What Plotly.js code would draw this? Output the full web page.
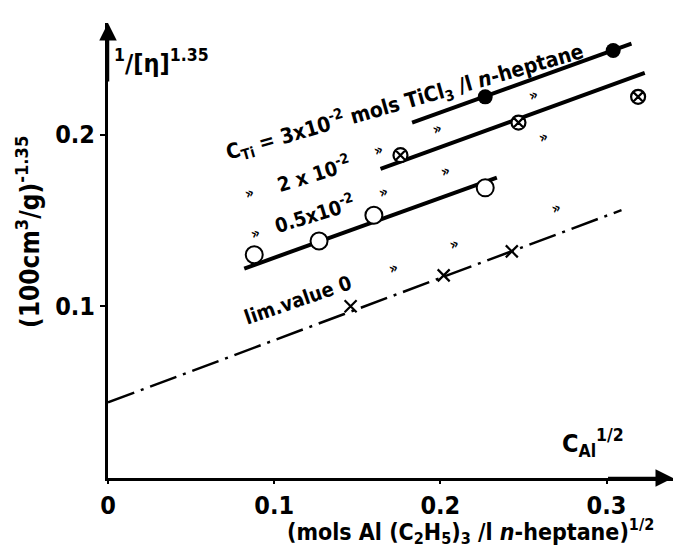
<!DOCTYPE html>
<html>
<head>
<meta charset="utf-8">
<script src="https://cdn.plot.ly/plotly-3.0.1.min.js"></script>
<style>html,body{margin:0;padding:0;background:#fff;}#chart{width:680px;height:548px;}</style>
</head>
<body>
<div id="chart"></div>
<script>
// ---- data (x = C_Al^1/2, y = 1/[eta]^1.35) ----
const cTi3_x = [0.227, 0.304];
const cTi3_y = [0.222, 0.249];
const fit3_x = [0.183, 0.315];
const fit3_y = [0.207, 0.253];

const cTi2_x = [0.176, 0.247, 0.319];
const cTi2_y = [0.188, 0.207, 0.222];
const fit2_x = [0.164, 0.323];
const fit2_y = [0.180, 0.236];

const cTi05_x = [0.088, 0.127, 0.160, 0.227];
const cTi05_y = [0.130, 0.138, 0.153, 0.169];
const fit05_x = [0.082, 0.234];
const fit05_y = [0.122, 0.175];

const lim0_x = [0.146, 0.202, 0.243];
const lim0_y = [0.100, 0.118, 0.132];
const limFit_x = [0.0, 0.309];
const limFit_y = [0.044, 0.156];

const xTickVals = [0, 0.1, 0.2, 0.3];
const xTickText = ['0', '0.1', '0.2', '0.3'];
const yTickVals = [0.1, 0.2];
const yTickText = ['0.1', '0.2'];

const FONT = "'DejaVu Sans Condensed', 'Liberation Sans Narrow', sans-serif";
const K = 'black';

const traces = [
  {x: fit3_x, y: fit3_y, mode: 'lines', line: {color: K, width: 4}},
  {x: fit2_x, y: fit2_y, mode: 'lines', line: {color: K, width: 4}},
  {x: fit05_x, y: fit05_y, mode: 'lines', line: {color: K, width: 4}},
  {x: limFit_x, y: limFit_y, mode: 'lines', line: {color: K, width: 2.5, dash: '28px,7px,3px,7px'}},
  {x: cTi3_x, y: cTi3_y, mode: 'markers', marker: {symbol: 'circle', size: 15, color: K}},
  {x: cTi2_x, y: cTi2_y, mode: 'markers', marker: {symbol: 'circle-x', size: 14, color: 'white', line: {color: K, width: 2.2}}},
  {x: cTi05_x, y: cTi05_y, mode: 'markers', marker: {symbol: 'circle', size: 17, color: 'white', line: {color: K, width: 2}}},
  {x: lim0_x, y: lim0_y, mode: 'markers', marker: {symbol: 'x-thin-open', size: 12, color: K, line: {color: K, width: 2.2}}}
];

function txt(text, x, y, size, angle, extra) {
  return Object.assign({text: text, x: x, y: y, xref: 'x', yref: 'y', showarrow: false,
    xanchor: 'center', yanchor: 'middle',
    textangle: angle || 0, font: {family: FONT, size: size, color: K, weight: 'bold'}}, extra || {});
}

const ditto = [
  [0.085, 0.166], [0.089, 0.1425],
  [0.163, 0.191], [0.166, 0.1665], [0.172, 0.1225],
  [0.198, 0.203], [0.203, 0.179], [0.2085, 0.136],
  [0.256, 0.223], [0.262, 0.1985], [0.270, 0.157]
];

const annotations = [
  txt('C<sub>Ti</sub> = 3x10<sup>-2</sup> mols TiCl<sub>3</sub> /l <i>n</i>-heptane', 0.1787, 0.2197, 21, -16),
  txt('2 x 10<sup>-2</sup>', 0.124, 0.1774, 20, -17),
  txt('0.5x10<sup>-2</sup>', 0.1245, 0.1546, 20, -17),
  txt('lim.value 0', 0.1142, 0.1037, 20, -19),
  txt('<sup>1</sup>/[η]<sup>1.35</sup>', 0.032, 0.2425, 25, 0),
  txt('C<sub>Al</sub><sup>1/2</sup>', 0.2916, 0.0202, 25, 0),
  {text: '(mols Al (C<sub>2</sub>H<sub>5</sub>)<sub>3</sub> /l <i>n</i>-heptane)<sup>1/2</sup>',
   xref: 'paper', yref: 'paper', x: 0.641, y: -0.1165, xanchor: 'center', yanchor: 'middle', showarrow: false,
   font: {family: FONT, size: 23, color: K, weight: 'bold'}},
  {text: '(100cm<sup>3</sup>/g)<sup>-1.35</sup>', xref: 'paper', yref: 'paper', x: -0.1416, y: 0.5407,
   xanchor: 'center', yanchor: 'middle',
   showarrow: false, textangle: -90, font: {family: FONT, size: 26, color: K, weight: 'bold'}},
  // axis arrows
  {x: 0.34, y: 0, ax: 0.30, ay: 0, xref: 'x', yref: 'y', axref: 'x', ayref: 'y', text: '',
   showarrow: true, arrowhead: 2, arrowsize: 1.4, arrowwidth: 2.5, arrowcolor: K},
  {x: 0, y: 0.265, ax: 0, ay: 0.23, xref: 'x', yref: 'y', axref: 'x', ayref: 'y', text: '',
   showarrow: true, arrowhead: 2, arrowsize: 1.4, arrowwidth: 2.5, arrowcolor: K}
];
ditto.forEach(p => annotations.push(txt('»', p[0], p[1], 15, -20)));

const layout = {
  width: 680, height: 548,
  margin: {l: 108, r: 7, t: 23, b: 70},
  paper_bgcolor: 'white', plot_bgcolor: 'white',
  showlegend: false,
  xaxis: {range: [0, 0.34], showgrid: false, zeroline: false, showline: true, linecolor: K, linewidth: 3,
    ticks: 'outside', ticklen: 3, tickwidth: 2, tickcolor: K, tickvals: xTickVals, ticktext: xTickText,
    tickfont: {family: FONT, size: 25, color: K, weight: 'bold'}, fixedrange: true},
  yaxis: {range: [0, 0.265], showgrid: false, zeroline: false, showline: true, linecolor: K, linewidth: 3,
    ticks: 'outside', ticklen: 5, tickwidth: 2, tickcolor: K, tickvals: yTickVals, ticktext: yTickText,
    tickfont: {family: FONT, size: 25, color: K, weight: 'bold'}, fixedrange: true},
  annotations: annotations
};

Plotly.newPlot('chart', traces, layout, {staticPlot: true, displayModeBar: false});
</script>
</body>
</html>
